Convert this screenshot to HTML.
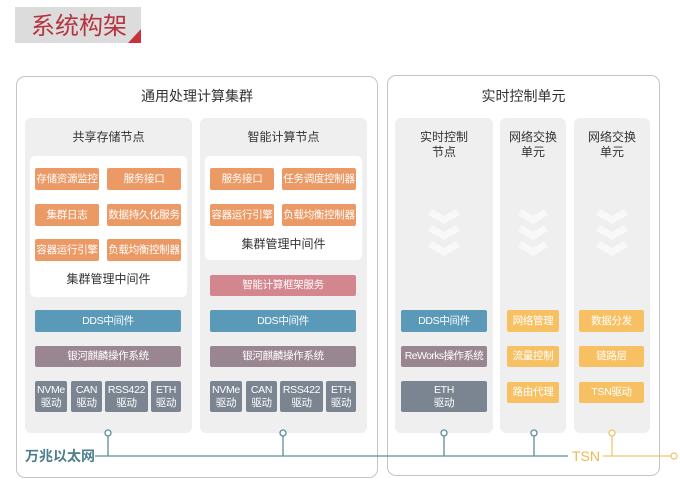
<!DOCTYPE html>
<html><head><meta charset="utf-8"><style>
*{margin:0;padding:0;box-sizing:border-box}
body{width:680px;height:487px;background:#fff;position:relative;overflow:hidden;font-family:"Liberation Sans","Noto Sans CJK SC",sans-serif}
.a{position:absolute}
.c{position:absolute;display:flex;align-items:center;justify-content:center;text-align:center;color:#fff;font-size:10.5px;line-height:13px;border-radius:2px;white-space:nowrap;letter-spacing:-0.3px;overflow:hidden}
.o{background:#eb9a66}
.y{background:#f7c163}
.b{background:#5a9ab8}
.p{background:#9a8690}
.g{background:#7b8591}
.t{position:absolute;text-align:center;color:#333;font-size:12px;line-height:15px}
.panel{position:absolute;background:#efefef;border-radius:6px}
.box{position:absolute;border:1px solid #c4c4c4;border-radius:9px;background:#fff}
</style></head><body>
<div class="a" style="left:15px;top:7px;width:126px;height:36px;background:#dcdcdc"></div>
<div class="a" style="left:15px;top:6px;width:126px;height:36px;color:#b5343f;font-size:24px;line-height:36px;padding-left:16px;font-family:'Noto Sans CJK SC',sans-serif">系统构架</div>
<svg class="a" style="left:128px;top:29px" width="13" height="14"><polygon points="13,0 13,14 0,14" fill="#c8323e"/></svg>

<div class="box" style="left:16px;top:76px;width:362px;height:402px"></div>
<div class="t" style="left:16px;top:89px;width:362px;font-size:14px">通用处理计算集群</div>
<div class="box" style="left:387px;top:75px;width:273px;height:401px"></div>
<div class="t" style="left:387px;top:89px;width:273px;font-size:14px">实时控制单元</div>

<div class="panel" style="left:25px;top:118px;width:167px;height:315px"></div>
<div class="panel" style="left:200px;top:118px;width:167px;height:315px"></div>
<div class="t" style="left:25px;top:130px;width:167px">共享存储节点</div>
<div class="t" style="left:200px;top:130px;width:167px">智能计算节点</div>
<div class="a" style="left:30px;top:156px;width:157px;height:141px;background:#fff;border-radius:5px"></div>
<div class="a" style="left:205px;top:156px;width:157px;height:104px;background:#fff;border-radius:5px"></div>

<div class="c o" style="left:35px;top:168px;width:64px;height:22px">存储资源监控</div>
<div class="c o" style="left:107px;top:168px;width:74px;height:22px">服务接口</div>
<div class="c o" style="left:35px;top:204px;width:64px;height:22px">集群日志</div>
<div class="c o" style="left:107px;top:204px;width:74px;height:22px">数据持久化服务</div>
<div class="c o" style="left:35px;top:239px;width:64px;height:22px">容器运行引擎</div>
<div class="c o" style="left:107px;top:239px;width:74px;height:22px">负载均衡控制器</div>
<div class="t" style="left:30px;top:272px;width:157px">集群管理中间件</div>

<div class="c o" style="left:210px;top:168px;width:64px;height:22px">服务接口</div>
<div class="c o" style="left:282px;top:168px;width:74px;height:22px">任务调度控制器</div>
<div class="c o" style="left:210px;top:204px;width:64px;height:22px">容器运行引擎</div>
<div class="c o" style="left:282px;top:204px;width:74px;height:22px">负载均衡控制器</div>
<div class="t" style="left:205px;top:237px;width:157px">集群管理中间件</div>
<div class="c" style="left:210px;top:275px;width:146px;height:21px;background:#d4868e">智能计算框架服务</div>

<div class="c b" style="left:35px;top:310px;width:146px;height:22px">DDS中间件</div>
<div class="c b" style="left:210px;top:310px;width:146px;height:22px">DDS中间件</div>
<div class="c p" style="left:35px;top:346px;width:146px;height:21px">银河麒麟操作系统</div>
<div class="c p" style="left:210px;top:346px;width:146px;height:21px">银河麒麟操作系统</div>

<div class="c g" style="left:35px;top:381px;width:32px;height:31px">NVMe<br>驱动</div>
<div class="c g" style="left:71px;top:381px;width:31px;height:31px">CAN<br>驱动</div>
<div class="c g" style="left:105px;top:381px;width:43px;height:31px">RSS422<br>驱动</div>
<div class="c g" style="left:151px;top:381px;width:30px;height:31px">ETH<br>驱动</div>
<div class="c g" style="left:210px;top:381px;width:32px;height:31px">NVMe<br>驱动</div>
<div class="c g" style="left:246px;top:381px;width:31px;height:31px">CAN<br>驱动</div>
<div class="c g" style="left:280px;top:381px;width:43px;height:31px">RSS422<br>驱动</div>
<div class="c g" style="left:326px;top:381px;width:30px;height:31px">ETH<br>驱动</div>

<div class="panel" style="left:395px;top:118px;width:98px;height:315px"></div>
<div class="panel" style="left:500px;top:118px;width:66px;height:315px"></div>
<div class="panel" style="left:574px;top:118px;width:76px;height:315px"></div>
<div class="t" style="left:395px;top:130px;width:98px">实时控制<br>节点</div>
<div class="t" style="left:500px;top:130px;width:66px">网络交换<br>单元</div>
<div class="t" style="left:574px;top:130px;width:76px">网络交换<br>单元</div>
<svg class="a" style="left:0;top:0" width="680" height="487">
<g fill="none" stroke="#f8f8f8" stroke-width="7">
<polyline points="430,212 444,220 458,212"/><polyline points="430,228 444,236 458,228"/><polyline points="430,244 444,252 458,244"/>
<polyline points="520,212 533,220 546,212"/><polyline points="520,228 533,236 546,228"/><polyline points="520,244 533,252 546,244"/>
<polyline points="598,212 612,220 626,212"/><polyline points="598,228 612,236 626,228"/><polyline points="598,244 612,252 626,244"/>
</g>
<g stroke="#5e8e9c" stroke-width="1.3" fill="#fff">
<line x1="95" y1="456" x2="568" y2="456"/>
<line x1="108" y1="436" x2="108" y2="456"/><line x1="283" y1="436" x2="283" y2="456"/>
<line x1="444" y1="436" x2="444" y2="456"/><line x1="534" y1="436" x2="534" y2="456"/>
<circle cx="108" cy="433" r="3"/><circle cx="283" cy="433" r="3"/><circle cx="444" cy="433" r="3"/><circle cx="534" cy="433" r="3"/>
</g>
<g stroke="#f0c66e" stroke-width="1.3" fill="#fff">
<line x1="603" y1="456" x2="671" y2="456"/><line x1="612" y1="436" x2="612" y2="456"/>
<circle cx="612" cy="433" r="3"/><circle cx="674" cy="456" r="3"/>
</g>
</svg>
<div class="a" style="left:25px;top:448px;color:#4e7e8e;font-size:14px;line-height:16px;font-weight:bold">万兆以太网</div>
<div class="a" style="left:572px;top:448px;color:#f0b94f;font-size:14px;line-height:16px">TSN</div>

<div class="c b" style="left:401px;top:310px;width:86px;height:22px">DDS中间件</div>
<div class="c p" style="left:401px;top:346px;width:86px;height:21px;letter-spacing:-0.6px">ReWorks操作系统</div>
<div class="c g" style="left:401px;top:381px;width:86px;height:31px">ETH<br>驱动</div>
<div class="c y" style="left:507px;top:310px;width:52px;height:22px">网络管理</div>
<div class="c y" style="left:507px;top:346px;width:52px;height:21px">流量控制</div>
<div class="c y" style="left:507px;top:382px;width:52px;height:21px">路由代理</div>
<div class="c y" style="left:579px;top:310px;width:65px;height:22px">数据分发</div>
<div class="c y" style="left:579px;top:346px;width:65px;height:21px">链路层</div>
<div class="c y" style="left:579px;top:382px;width:65px;height:21px">TSN驱动</div>
</body></html>
